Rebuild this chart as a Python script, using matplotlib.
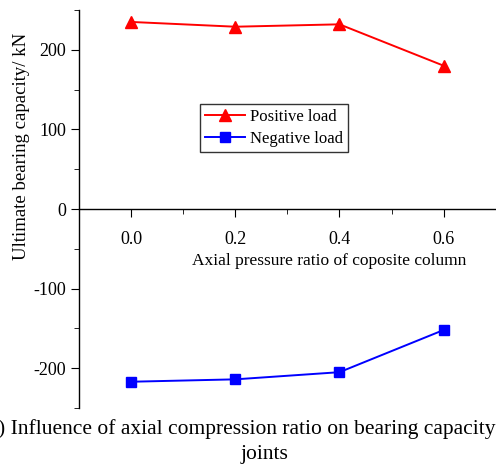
import matplotlib
matplotlib.use("Agg")
import matplotlib.pyplot as plt
from matplotlib.ticker import MultipleLocator

plt.rcParams['font.family'] = ['Liberation Serif', 'DejaVu Serif']
plt.rcParams['axes.unicode_minus'] = False

ratio = [0.0, 0.2, 0.4, 0.6]
positive = [235, 229, 232, 180]
negative = [-217, -214, -205, -152]

fig = plt.figure(figsize=(4.96, 4.66), dpi=100)
ax = fig.add_axes([79/496, 58/466, 1 - 79/496 + 0.01, (408-10)/466])
ax.plot(ratio, positive, color='#ff0000', marker='^', markersize=8, lw=1.4, label='Positive load')
ax.plot(ratio, negative, color='#0000ff', marker='s', markersize=6.5, lw=1.4, label='Negative load')

ax.set_xlim(-0.1, 0.71)
ax.set_ylim(-250, 250)
ax.spines['top'].set_visible(False)
ax.spines['right'].set_visible(False)
ax.spines['bottom'].set_position(('data', 0))
for s in ax.spines.values():
    s.set_linewidth(1.0)
ax.xaxis.set_major_locator(MultipleLocator(0.2))
ax.xaxis.set_minor_locator(MultipleLocator(0.1))
ax.yaxis.set_major_locator(MultipleLocator(100))
ax.yaxis.set_minor_locator(MultipleLocator(50))
ax.set_xticks([0.0, 0.2, 0.4, 0.6])
ax.set_xticklabels(['0.0', '0.2', '0.4', '0.6'])
ax.tick_params(axis='x', which='major', direction='out', length=6, pad=10, labelsize=13)
ax.tick_params(axis='x', which='minor', direction='out', length=3.5)
ax.tick_params(axis='y', which='major', direction='out', length=6, labelsize=13)
ax.tick_params(axis='y', which='minor', direction='out', length=3.5)

fig.text(329/496, 1 - 261/466, 'Axial pressure ratio of coposite column', ha='center', va='center', fontsize=12.5)
fig.text(22/496, 1 - 146/466, 'Ultimate bearing capacity/ kN', rotation=90, ha='center', va='center', fontsize=13.5)
fig.text(-2/496, 1 - 429/466, ') Influence of axial compression ratio on bearing capacity', ha='left', va='center', fontsize=15.5)
fig.text(264/496, 1 - 454/466, 'joints', ha='center', va='center', fontsize=15.5)

leg = ax.legend(loc='upper left', bbox_to_anchor=((200-79)/(496-79+5), (408-104)/398),
                fontsize=12, frameon=True, fancybox=False, edgecolor='black',
                handlelength=2.4, borderpad=0.3, labelspacing=0.35, handletextpad=0.3, borderaxespad=0)
leg.get_frame().set_linewidth(1.0)

fig.savefig('out.png', dpi=100)
